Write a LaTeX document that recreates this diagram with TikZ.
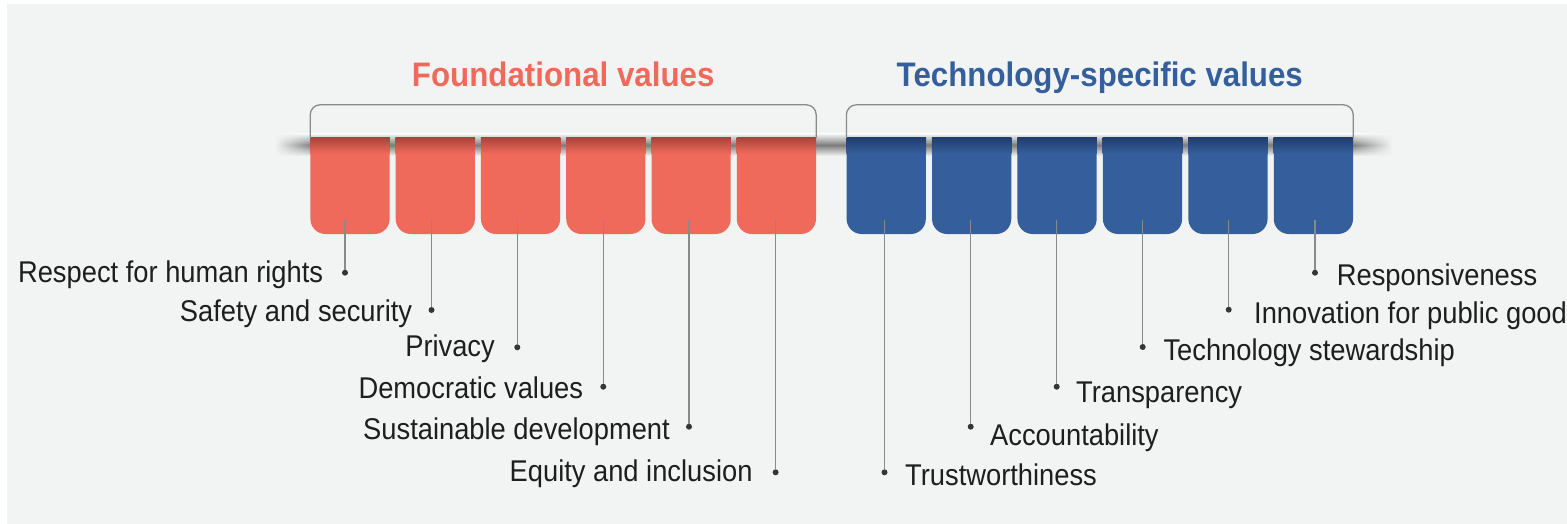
\documentclass[tikz,border=0pt]{standalone}
\usepackage{fontspec}
\newfontfamily\lblfont[FakeStretch=0.91]{Liberation Sans}
\newfontfamily\ttlfont[FakeStretch=0.92]{Liberation Sans}
\usetikzlibrary{calc,fadings}
\definecolor{bg}{HTML}{F2F4F3}
\definecolor{redt}{HTML}{F06A5B}
\definecolor{redd}{HTML}{A8463C}
\definecolor{bluet}{HTML}{345F9C}
\definecolor{blued}{HTML}{213F6C}
\definecolor{shc}{HTML}{7C7C7C}
\definecolor{linec}{HTML}{8A8A8A}
\definecolor{txt}{HTML}{1E1E1E}
\tikzfading[name=fadeL, left color=transparent!100, right color=transparent!0]
\tikzfading[name=fadeR, left color=transparent!0, right color=transparent!100]
\begin{document}
\begin{tikzpicture}[x=1pt,y=-1pt,
  tabbox/.style={rectangle, minimum width=79.2pt, minimum height=96pt, inner sep=0pt, rounded corners=15pt},
  redtab/.style={tabbox, fill=redt},
  bluetab/.style={tabbox, fill=bluet},
  dotn/.style={circle, fill=txt!90, inner sep=0pt, minimum size=6pt},
  lbl/.style={inner sep=0pt, text=txt, font=\lblfont\fontsize{30}{36}\selectfont},
  ttl/.style={inner sep=0pt, font=\ttlfont\bfseries\fontsize{34}{40}\selectfont},
  ln/.style={draw=linec, line width=1.4pt},
  brk/.style={draw=linec, line width=1.3pt, rounded corners=10pt}]

\useasboundingbox (0,0) rectangle (1567,524);
\fill[bg] (7,4) rectangle (1567,524);

% shadow bar
\shade[top color=bg, bottom color=bg, middle color=shc, path fading=fadeL] (275,134) rectangle (312,156);
\shade[top color=bg, bottom color=bg, middle color=shc] (312,134) rectangle (1352,156);
\shade[top color=bg, bottom color=bg, middle color=shc, path fading=fadeR] (1352,134) rectangle (1392,156);

% tabs
\foreach \i in {1,...,6} {
  \node[redtab] (r\i) at ({350+85.28*(\i-1)},186) {};
  \shade[top color=redd, bottom color=redt] (r\i.north west) rectangle ($(r\i.north east)+(0,16)$);
  \node[bluetab] (b\i) at ({886.2+85.44*(\i-1)},186) {};
  \shade[top color=blued, bottom color=bluet] (b\i.north west) rectangle ($(b\i.north east)+(0,16)$);
}

% brackets and titles
\draw[brk] (r1.north west) -- ($(r1.north west)+(0,-33)$) -| (r6.north east);
\draw[brk] (b1.north west) -- ($(b1.north west)+(0,-33)$) -| (b6.north east);
\node[ttl, text=redt, anchor=base] (tf) at ($(r1.north west)!0.5!(r6.north east)+(0,-51)$) {Foundational values};
\node[ttl, text=bluet, anchor=base] (tt) at ($(b1.north west)!0.5!(b6.north east)+(0,-51)$) {Technology-specific values};

% red dots
\node[dotn] (rd1) at (345,272.7) {};
\node[dotn] (rd2) at (431.5,310) {};
\node[dotn] (rd3) at (517.3,347.3) {};
\node[dotn] (rd4) at (603.3,386.7) {};
\node[dotn] (rd5) at (689,426.7) {};
\node[dotn] (rd6) at (775.6,472.3) {};
% blue dots
\node[dotn] (bd1) at (884.5,472.3) {};
\node[dotn] (bd2) at (970.7,426.7) {};
\node[dotn] (bd3) at (1056.7,386.7) {};
\node[dotn] (bd4) at (1142.7,347) {};
\node[dotn] (bd5) at (1228.7,309.7) {};
\node[dotn] (bd6) at (1315,272.7) {};

\foreach \i in {1,...,6} {
  \draw[ln] ($(r\i.south -| rd\i)+(0,-14)$) -- (rd\i);
  \draw[ln] ($(b\i.south -| bd\i)+(0,-14)$) -- (bd\i);
}

% labels
\node[lbl, anchor=base east] (rl1) at (323.3,282.3) {Respect for human rights};
\node[lbl, anchor=base east] (rl2) at (412.3,321) {Safety and security};
\node[lbl, anchor=base east] (rl3) at (495,356.7) {Privacy};
\node[lbl, anchor=base east] (rl4) at (583.3,398.3) {Democratic values};
\node[lbl, anchor=base east] (rl5) at (670,439.3) {Sustainable development};
\node[lbl, anchor=base east] (rl6) at (752.7,481.7) {Equity and inclusion};

\node[lbl, anchor=base west] (bl1) at (905,485) {Trustworthiness};
\node[lbl, anchor=base west] (bl2) at (990,445) {Accountability};
\node[lbl, anchor=base west] (bl3) at (1076,402.7) {Transparency};
\node[lbl, anchor=base west] (bl4) at (1163.3,360) {Technology stewardship};
\node[lbl, anchor=base west] (bl5) at (1254,323.3) {Innovation for public good};
\node[lbl, anchor=base west] (bl6) at (1336.7,285) {Responsiveness};
\end{tikzpicture}
\end{document}
